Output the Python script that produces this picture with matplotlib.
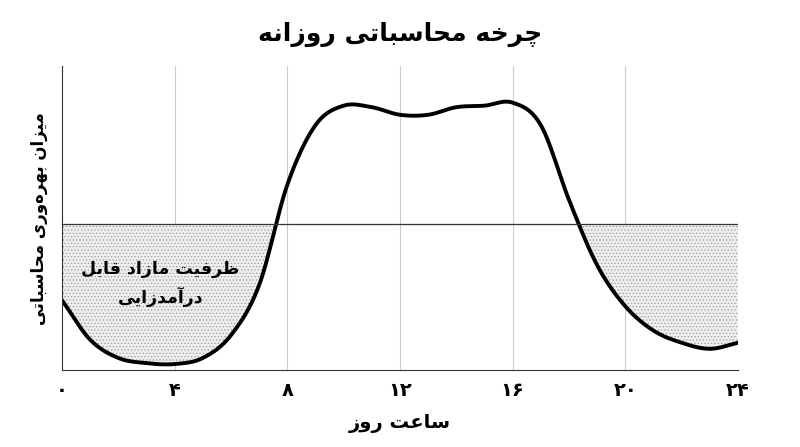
import matplotlib
matplotlib.use("Agg")
import matplotlib.pyplot as plt
import numpy as np

hours = [0,1,2,3,4,5,6,7,8,9,10,11,12,13,14,15,16,17,18,19,20,21,22,23,24]
usage = [23,10,4,2.3,2,4,11.5,28,61,80.6,87,86.5,84,84,86.5,87,88,80.6,56,34.5,21,13,9,7,9]
threshold = 48
tick_pos = [0,4,8,12,16,20,24]
tick_labels = ["۰","۴","۸","۱۲","۱۶","۲۰","۲۴"]
title = "چرخه محاسباتی روزانه"
xlabel = "ساعت روز"
ylabel = "میزان بهره\u200cوری محاسباتی"
note = "ظرفیت مازاد قابل\nدرآمدزایی"

F = {'ا':(0xFE8D,0xFE8E),'آ':(0xFE81,0xFE82),'د':(0xFEA9,0xFEAA),'ر':(0xFEAD,0xFEAE),
     'ز':(0xFEAF,0xFEB0),'و':(0xFEED,0xFEEE),
     'ب':(0xFE8F,0xFE90,0xFE91,0xFE92),'پ':(0xFB56,0xFB57,0xFB58,0xFB59),
     'ت':(0xFE95,0xFE96,0xFE97,0xFE98),'ح':(0xFEA1,0xFEA2,0xFEA3,0xFEA4),
     'خ':(0xFEA5,0xFEA6,0xFEA7,0xFEA8),'چ':(0xFB7A,0xFB7B,0xFB7C,0xFB7D),
     'س':(0xFEB1,0xFEB2,0xFEB3,0xFEB4),'ظ':(0xFEC5,0xFEC6,0xFEC7,0xFEC8),
     'ع':(0xFEC9,0xFECA,0xFECB,0xFECC),'ف':(0xFED1,0xFED2,0xFED3,0xFED4),
     'ق':(0xFED5,0xFED6,0xFED7,0xFED8),'ل':(0xFEDD,0xFEDE,0xFEDF,0xFEE0),
     'م':(0xFEE1,0xFEE2,0xFEE3,0xFEE4),'ن':(0xFEE5,0xFEE6,0xFEE7,0xFEE8),
     'ه':(0xFEE9,0xFEEA,0xFEEB,0xFEEC),'ی':(0xFBFC,0xFBFD,0xFBFE,0xFBFF)}

def shape_line(s):
    out = []
    for i, c in enumerate(s):
        if c not in F:
            if c != '\u200c':
                out.append(c)
            continue
        p = s[i-1] if i > 0 else ''
        n = s[i+1] if i+1 < len(s) else ''
        jp = p in F and len(F[p]) == 4
        jn = len(F[c]) == 4 and n in F
        f = F[c]
        if jp and jn: g = f[3]
        elif jp: g = f[1]
        elif jn: g = f[2]
        else: g = f[0]
        out.append(chr(g))
    return "".join(out[::-1])

def shape(s):
    return "\n".join(shape_line(l) for l in s.split("\n"))

def catmull(x, y, n=20):
    x = np.array(x, float); y = np.array(y, float)
    px = np.concatenate([[2*x[0]-x[1]], x, [2*x[-1]-x[-2]]])
    py = np.concatenate([[2*y[0]-y[1]], y, [2*y[-1]-y[-2]]])
    xs, ys = [], []
    t = np.linspace(0, 1, n, endpoint=False)
    for i in range(1, len(px)-2):
        for arr, out in ((px, xs), (py, ys)):
            p0, p1, p2, p3 = arr[i-1], arr[i], arr[i+1], arr[i+2]
            out.extend(0.5*((2*p1)+(-p0+p2)*t+(2*p0-5*p1+4*p2-p3)*t**2+(-p0+3*p1-3*p2+p3)*t**3))
    xs.append(x[-1]); ys.append(y[-1])
    return np.array(xs), np.array(ys)

plt.rcParams['font.family'] = ['DejaVu Sans']
plt.rcParams['hatch.color'] = '#999999'
plt.rcParams['hatch.linewidth'] = 0.5
fig = plt.figure(figsize=(8, 4.47), dpi=100)
ax = fig.add_axes([0.0775, 0.172, 0.845, 0.68])
xs, ys = catmull(hours, usage)
ax.fill_between(xs, ys, threshold, where=ys < threshold, facecolor='#eeeeee',
                hatch='.....', edgecolor='#999999', linewidth=0, interpolate=True)
ax.plot(xs, ys, color='black', lw=2.8, solid_capstyle='round')
ax.axhline(threshold, color='#333333', lw=0.9)
for t in tick_pos[1:-1]:
    ax.axvline(t, color='#cccccc', lw=0.8, zorder=0)
ax.set_xlim(0, 24); ax.set_ylim(0, 100)
ax.set_xticks(tick_pos)
ax.set_xticklabels(tick_labels, fontsize=14, fontweight='bold')
ax.set_yticks([])
ax.tick_params(axis='x', length=0, pad=8)
for s in ('top', 'right'):
    ax.spines[s].set_visible(False)
ax.spines['left'].set_color('#333333'); ax.spines['bottom'].set_color('#333333')
ax.set_xlabel(shape(xlabel), fontsize=14, fontweight='bold', labelpad=10)
ax.set_ylabel(shape(ylabel), fontsize=12, fontweight='bold', labelpad=10)
fig.suptitle(shape(title), fontsize=18, fontweight='bold', y=0.95)
ax.text(3.5, 28.5, shape(note), fontsize=12.5, fontweight='bold', ha='center', va='center',
        multialignment='center', linespacing=1.5)
fig.savefig("out.png", dpi=100)
